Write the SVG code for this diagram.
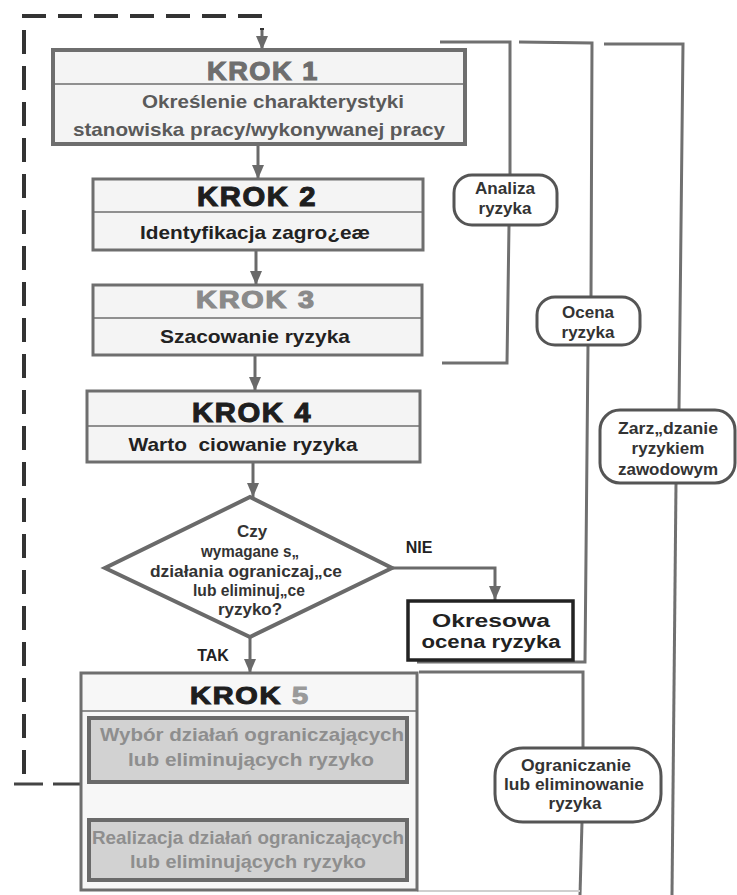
<svg xmlns="http://www.w3.org/2000/svg" width="737" height="895" viewBox="0 0 737 895">
<defs>
<marker id="ahd" markerWidth="16" markerHeight="16" refX="15" refY="8" orient="auto" markerUnits="userSpaceOnUse" viewBox="0 0 16 16">
<path d="M1,2 L15,8 L1,14 Z" fill="#6a6a6a"/>
</marker>
<style>
text{font-family:"Liberation Sans",Arial,sans-serif;font-weight:bold;text-anchor:middle;}
.box{fill:#f4f4f4;stroke:#6e6e6e;stroke-width:3;}
.div{stroke:#6e6e6e;stroke-width:1.5;fill:none;}
.title{font-size:26px;letter-spacing:1.5px;stroke-width:1.1px;}
.sub{font-size:19px;fill:#222;}
.conn{stroke:#6a6a6a;stroke-width:3;fill:none;}
.brk{stroke:#707070;stroke-width:3;fill:none;}
.pill{fill:#fff;stroke:#555;stroke-width:3;}
.pt{font-size:17px;fill:#333;}
.inner{fill:#d2d2d2;stroke:#6a6a6a;stroke-width:4;}
.it{font-size:19px;fill:#8e8e8e;}
</style>
</defs>

<g id="connectors">
<path d="M82,784 H13" stroke="#444" stroke-width="3" fill="none" stroke-dasharray="29 10"/>
<path d="M24,774 V16 H262 V30" stroke="#333" stroke-width="4" fill="none" stroke-dasharray="24 12"/>
<line class="conn" x1="262" y1="30" x2="262" y2="50" marker-end="url(#ahd)"/>
<line class="conn" x1="258" y1="145" x2="258" y2="179" marker-end="url(#ahd)"/>
<line class="conn" x1="256" y1="250" x2="256" y2="285" marker-end="url(#ahd)"/>
<line class="conn" x1="255" y1="355" x2="255" y2="391" marker-end="url(#ahd)"/>
<line class="conn" x1="253" y1="462" x2="253" y2="497" marker-end="url(#ahd)"/>
<polyline class="conn" points="392,568 495,568 495,600" marker-end="url(#ahd)"/>
<line class="conn" x1="250" y1="637" x2="250" y2="673" marker-end="url(#ahd)"/>
<line class="conn" x1="248" y1="782" x2="248" y2="820" marker-end="url(#ahd)"/>
<text x="419" y="553" style="font-size:16px;fill:#222">NIE</text>
<text x="213" y="661" style="font-size:16px;fill:#222">TAK</text>
</g>

<g id="brackets">
<polyline class="brk" points="440,42 510,42 510,175"/>
<polyline class="brk" points="509,225 507,363 442,363"/>
<polyline class="brk" points="519,42 592,43 591,297"/>
<polyline class="brk" points="588,345 585,662 417,662"/>
<polyline class="brk" points="419,672 583,672 583,748"/>
<line class="brk" x1="582" y1="822" x2="580" y2="895"/>
<line x1="417" y1="891" x2="580" y2="891" stroke="#cfcfcf" stroke-width="2"/>
<polyline class="brk" points="604,44 683,44 679,410"/>
<line class="brk" x1="676" y1="483" x2="672" y2="895"/>
</g>

<g id="krok1">
<rect class="box" x="53" y="50" width="412" height="94" style="stroke-width:4"/>
<line class="div" x1="53" y1="84" x2="465" y2="84"/>
<text class="title" x="263" y="80" fill="#6e6e6e" stroke="#6e6e6e" textLength="112" lengthAdjust="spacingAndGlyphs">KROK 1</text>
<text class="sub" x="273" y="108" style="fill:#5a5a5a" textLength="262" lengthAdjust="spacingAndGlyphs">Określenie charakterystyki</text>
<text class="sub" x="259" y="136" style="fill:#5a5a5a" textLength="372" lengthAdjust="spacingAndGlyphs">stanowiska pracy/wykonywanej pracy</text>
</g>

<g id="krok2">
<rect class="box" x="93" y="179" width="330" height="71"/>
<line class="div" x1="93" y1="212" x2="423" y2="212"/>
<text class="title" x="257" y="206" fill="#1e1e1e" stroke="#1e1e1e" style="font-size:27px" textLength="120" lengthAdjust="spacingAndGlyphs">KROK 2</text>
<text class="sub" x="255" y="239" textLength="230" lengthAdjust="spacingAndGlyphs">Identyfikacja zagro¿eæ</text>
</g>

<g id="krok3">
<rect class="box" x="93" y="285" width="329" height="70"/>
<line class="div" x1="93" y1="318" x2="422" y2="318"/>
<text class="title" x="256" y="308" fill="#8a8a8a" stroke="#8a8a8a" style="font-size:23px" textLength="120" lengthAdjust="spacingAndGlyphs">KROK 3</text>
<text class="sub" x="255" y="343" textLength="190" lengthAdjust="spacingAndGlyphs">Szacowanie ryzyka</text>
</g>

<g id="krok4">
<rect class="box" x="87" y="391" width="333" height="71"/>
<line class="div" x1="87" y1="426" x2="420" y2="426"/>
<text class="title" x="252" y="422" fill="#1e1e1e" stroke="#1e1e1e" style="font-size:28px" textLength="120" lengthAdjust="spacingAndGlyphs">KROK 4</text>
<text class="sub" x="243" y="451" textLength="229" lengthAdjust="spacingAndGlyphs" xml:space="preserve">Warto  ciowanie ryzyka</text>
</g>

<g id="decision">
<polygon points="250,497 392,568 250,637 105,568" fill="#fff" stroke="#6a6a6a" stroke-width="4"/>
<text class="pt" x="252" y="537">Czy</text>
<text class="pt" x="250" y="557" textLength="98" lengthAdjust="spacingAndGlyphs">wymagane s„</text>
<text class="pt" x="246" y="577" textLength="192" lengthAdjust="spacingAndGlyphs">działania ograniczaj„ce</text>
<text class="pt" x="249" y="596" textLength="112" lengthAdjust="spacingAndGlyphs">lub eliminuj„ce</text>
<text class="pt" x="250" y="615">ryzyko?</text>
</g>

<g id="okresowa">
<rect x="408" y="601" width="165" height="59" fill="#fff" stroke="#222" stroke-width="3.5"/>
<text class="sub" x="491" y="627" style="font-size:18px" textLength="118" lengthAdjust="spacingAndGlyphs">Okresowa</text>
<text class="sub" x="491" y="648" style="font-size:18px" textLength="139" lengthAdjust="spacingAndGlyphs">ocena ryzyka</text>
</g>

<g id="krok5">
<rect class="box" x="81" y="673" width="336" height="217" style="fill:#f7f7f7"/>
<line class="div" x1="81" y1="711" x2="417" y2="711"/>
<text class="title" x="250" y="704" style="font-size:24px" fill="#1e1e1e" stroke="#1e1e1e" textLength="120" lengthAdjust="spacingAndGlyphs">KROK <tspan fill="#9a9a9a" stroke="#9a9a9a">5</tspan></text>
<rect class="inner" x="89" y="718" width="318" height="64"/>
<text class="it" x="252" y="741" textLength="304" lengthAdjust="spacingAndGlyphs">Wybór działań ograniczających</text>
<text class="it" x="251" y="766" textLength="246" lengthAdjust="spacingAndGlyphs">lub eliminujących ryzyko</text>
<rect class="inner" x="89" y="820" width="318" height="60"/>
<text class="it" x="248" y="844" textLength="312" lengthAdjust="spacingAndGlyphs">Realizacja działań ograniczających</text>
<text class="it" x="248" y="868" textLength="236" lengthAdjust="spacingAndGlyphs">lub eliminujących ryzyko</text>
</g>

<g id="analiza">
<rect class="pill" x="454" y="175" width="103" height="50" rx="18"/>
<text class="pt" x="505" y="194" textLength="60" lengthAdjust="spacingAndGlyphs">Analiza</text>
<text class="pt" x="505" y="214">ryzyka</text>
</g>

<g id="ocena">
<rect class="pill" x="537" y="297" width="103" height="48" rx="18"/>
<text class="pt" x="588" y="318">Ocena</text>
<text class="pt" x="588" y="338">ryzyka</text>
</g>

<g id="zarzadzanie">
<rect class="pill" x="600" y="410" width="135" height="73" rx="20"/>
<text class="pt" x="668" y="434" textLength="100" lengthAdjust="spacingAndGlyphs">Zarz„dzanie</text>
<text class="pt" x="668" y="454">ryzykiem</text>
<text class="pt" x="668" y="475">zawodowym</text>
</g>

<g id="ograniczanie">
<rect class="pill" x="495" y="748" width="166" height="74" rx="28"/>
<text class="pt" x="576" y="771" textLength="110" lengthAdjust="spacingAndGlyphs">Ograniczanie</text>
<text class="pt" x="574" y="790" textLength="140" lengthAdjust="spacingAndGlyphs">lub eliminowanie</text>
<text class="pt" x="575" y="809">ryzyka</text>
</g>
</svg>
